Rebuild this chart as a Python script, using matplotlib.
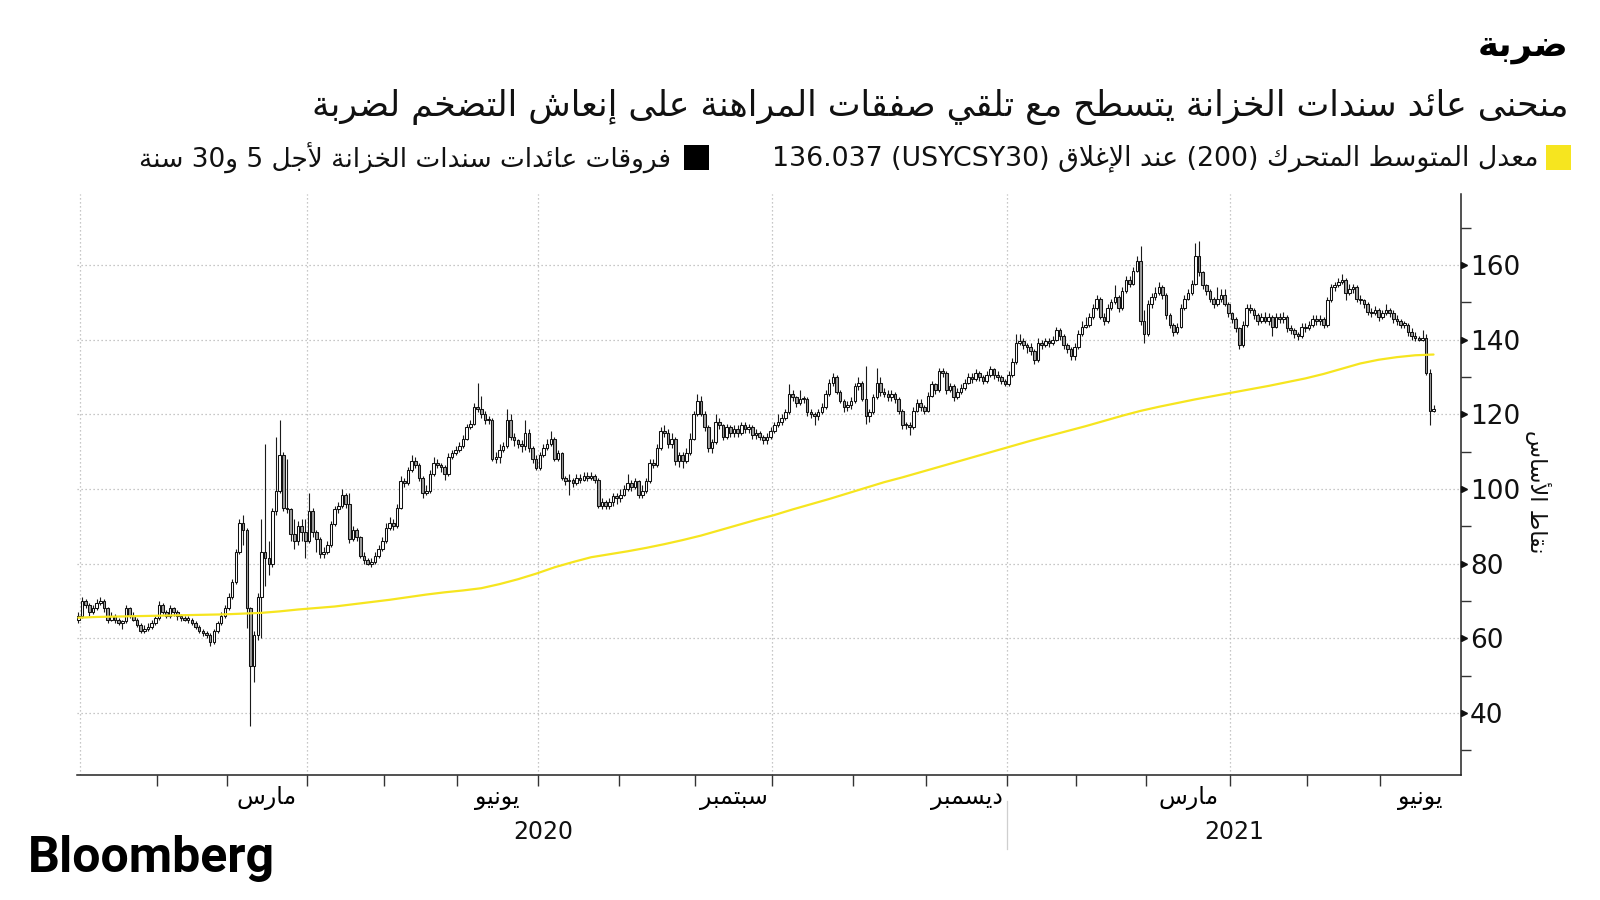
import numpy as np
import pandas as pd
import matplotlib
matplotlib.use("Agg")
import matplotlib.pyplot as plt
import matplotlib.transforms as mtransforms
from matplotlib.patches import Rectangle

plt.rcParams['font.family'] = ['DejaVu Sans']

# --- Arabic shaping (matplotlib has no text shaping, so use presentation forms) ---
AR_LETTERS = "ءآأؤإئابةتثجحخدذرزسشصضطظعغفقكلمنهوىي"
AR_NFORMS = [1, 2, 2, 2, 2, 4, 2, 4, 2, 4, 4, 4, 4, 4, 2, 2, 2, 2, 4, 4,
             4, 4, 4, 4, 4, 4, 4, 4, 4, 4, 4, 4, 4, 2, 2, 4]
FORMS = {}
_code = 0xFE80
for _ch, _n in zip(AR_LETTERS, AR_NFORMS):
    FORMS[_ch] = (_code, _n)
    _code += _n
LAM_ALEF = {'آ': 0xFEF5, 'أ': 0xFEF7, 'إ': 0xFEF9, 'ا': 0xFEFB}


def shape(text):
    chars = []
    i = 0
    while i < len(text):
        if text[i] == 'ل' and i + 1 < len(text) and text[i + 1] in LAM_ALEF:
            chars.append(('LA', text[i + 1]))
            i += 2
        else:
            chars.append(text[i])
            i += 1
    out = []
    for k, ch in enumerate(chars):
        prev = chars[k - 1] if k > 0 else None
        nxt = chars[k + 1] if k + 1 < len(chars) else None
        prev_j = isinstance(prev, str) and prev in FORMS and FORMS[prev][1] == 4
        if isinstance(ch, tuple):
            out.append(chr(LAM_ALEF[ch[1]] + (1 if prev_j else 0)))
            continue
        if ch not in FORMS:
            out.append(ch)
            continue
        base, n = FORMS[ch]
        next_j = n == 4 and nxt is not None and (
            isinstance(nxt, tuple) or (nxt in FORMS and FORMS[nxt][1] > 1))
        if n == 1:
            out.append(chr(base))
        elif n == 2:
            out.append(chr(base + (1 if prev_j else 0)))
        else:
            off = 3 if (prev_j and next_j) else 1 if prev_j else 2 if next_j else 0
            out.append(chr(base + off))
    return ''.join(out)


def rtl(text):
    return shape(text)[::-1]


# --- data: 5y/30y Treasury spread (bp), daily candles from 31 Dec 2019 ---
holidays = ['2020-01-01', '2020-01-20', '2020-02-17', '2020-04-10', '2020-05-25',
            '2020-07-03', '2020-09-07', '2020-11-26', '2020-12-25', '2021-01-01',
            '2021-01-18', '2021-02-15', '2021-04-02', '2021-05-31']

first_open = 65
closes = [
    66, 70, 69, 67, 68, 69.5, 70, 68, 65, 66,
    65, 64, 64.5, 68, 66, 65, 63.5, 62, 62.5, 63,
    64, 65.5, 69, 67, 66, 68, 67, 66, 65.5, 65,
    65, 64, 63, 62, 61.5, 61, 59, 62, 64, 66,
    68, 71, 75, 83, 91, 89, 68, 52.5, 61, 71,
    83, 81.5, 80, 94, 99.5, 109, 95, 94.5, 88, 86,
    90, 88.5, 86, 94, 88.5, 86.5, 82.5, 83, 85, 90.5,
    94.5, 95.5, 98.5, 96, 86.5, 89, 87, 82, 81, 80,
    80.5, 82, 84, 86, 89.5, 91, 90, 95, 102, 101.5,
    105, 107.5, 106.5, 103, 99, 99.5, 104, 107, 106.5, 106,
    104, 108.5, 109.5, 110.5, 111.5, 113.5, 116.5, 117.5, 122, 121.5,
    120, 118.5, 118.5, 108, 108.5, 110.5, 111.5, 118.5, 114, 113,
    112, 111.5, 115, 111, 108, 105.5, 109, 111, 112, 113.5,
    108, 109.5, 103, 102, 102.5, 101.5, 103, 102.5, 103.5, 103,
    103.5, 102.5, 95.5, 96.5, 95.5, 96.5, 98, 97.5, 98.5, 100,
    101.5, 100.5, 102, 98.5, 99.5, 102, 107, 106.5, 111, 115.5,
    115, 112, 113.5, 107.5, 109, 107.5, 109.5, 113.5, 120, 123.5,
    120, 116.5, 111, 112.5, 118, 117, 114, 116.5, 115, 116,
    115, 117, 116, 116.5, 114.5, 115, 114, 113, 114, 115.5,
    117, 118, 119, 120.5, 125.5, 124.5, 123, 124, 124, 120.5,
    120, 119.5, 120.5, 122, 125.5, 128.5, 130, 126, 123.5, 122,
    122.5, 123.5, 127.5, 128.5, 124, 119.5, 120.5, 124.5, 128.5, 126,
    125.5, 124.5, 125.5, 124, 121, 117, 117, 116.5, 121, 123,
    122, 121, 125, 128, 126.5, 131.5, 131, 126.5, 127.5, 124.5,
    126, 127, 128.5, 130, 129.5, 131, 130, 129, 130.5, 132,
    130.5, 130, 129, 128, 130.5, 134, 139, 139.5, 138.5, 138,
    137, 134.5, 139, 138.5, 139.5, 139, 140, 142.5, 141, 138.5,
    137.5, 135.5, 138, 141.5, 143.5, 144, 146, 148.5, 151, 146,
    145, 148.5, 150, 151.5, 148.5, 153, 156, 155, 158.5, 161,
    145, 141.5, 149.5, 151.5, 152.5, 154, 152, 146.5, 144, 142,
    143.5, 148.5, 151, 152.5, 155, 162.5, 158, 154.5, 153, 151,
    149.5, 151, 152, 149.5, 147, 145.5, 143, 138.5, 144, 148.5,
    148, 146.5, 145, 146, 145, 146, 143.5, 146, 145.5, 146,
    143, 142.5, 141.5, 141, 143.5, 143, 144, 145.5, 145, 145.5,
    144, 150.5, 154, 154.5, 155.5, 156, 152.5, 153.5, 154, 151,
    150.5, 149.5, 147.5, 147, 148, 146, 147, 148, 147, 145.5,
    145, 144, 144, 142, 141, 140.5, 140, 140.5, 131, 121,
    121.5,
]
highs = [
    67, 71, 70.5, 69.5, 69, 70.5, 71, 70.5, 68.5, 67,
    66.5, 65.5, 65, 69, 68.5, 67, 65.5, 64, 63.5, 64,
    65, 66, 70, 69.5, 67.5, 69, 68.5, 67.5, 66.5, 66,
    66, 65.5, 64.5, 63.5, 62.5, 62, 61.5, 62.5, 64.5, 67,
    69, 72, 76, 84, 92, 93, 89.5, 68.5, 62, 72,
    92, 112, 86, 95, 114, 118.5, 110, 108, 95, 92,
    91.5, 92, 92, 99, 95, 89, 87, 84.5, 86, 91.5,
    95.5, 96.5, 100, 99, 99, 90, 89.5, 87.5, 83, 81.5,
    81.5, 83, 85, 87, 91, 92.5, 92, 96, 103.5, 103,
    106, 109, 108.5, 107, 103.5, 101, 105, 108.5, 108, 107,
    106.5, 109.5, 110.5, 111.5, 112.5, 114.5, 117.5, 118.5, 123, 128.5,
    125, 121, 119.5, 119, 110, 112, 112.5, 121.5, 120, 115,
    113.5, 113, 118.5, 116, 111.5, 109, 110, 112, 113.5, 115.5,
    114, 110.5, 110, 103.5, 104, 103, 104, 104, 104.5, 104.5,
    104.5, 104, 103, 97.5, 97, 97.5, 99, 99, 100, 101,
    104, 102.5, 103, 102.5, 101, 103, 108, 108, 112, 116.5,
    117, 116, 115, 114, 110, 110, 111, 115, 121, 125.5,
    125, 121, 117, 113.5, 120, 119, 117.5, 117.5, 117, 117,
    117, 118, 118, 117.5, 117, 116, 115.5, 114.5, 115, 116.5,
    118, 120, 120, 121.5, 128, 126.5, 125, 126.5, 125, 124.5,
    121.5, 120.5, 121.5, 123, 126.5, 129.5, 131, 130.5, 126.5, 124,
    123.5, 124.5, 128.5, 130, 129, 133, 121.5, 125.5, 132.5, 130,
    127, 126.5, 126.5, 126, 124.5, 121.5, 118, 118, 122, 124,
    124, 122.5, 126, 129, 128.5, 132.5, 132.5, 131.5, 128.5, 128,
    127, 128, 129.5, 131, 131, 132, 131.5, 130.5, 131.5, 133,
    132.5, 131.5, 130.5, 129.5, 131.5, 135, 141.5, 141.5, 140.5, 139,
    139, 137.5, 140.5, 140, 140.5, 140.5, 141, 143.5, 143, 141.5,
    139, 138, 139, 142.5, 145, 146, 147, 149.5, 152, 151.5,
    147, 149.5, 151, 154.5, 152, 154, 157, 157, 159.5, 162.5,
    165, 148, 150.5, 152.5, 154, 155.5, 154.5, 152.5, 147, 144.5,
    144.5, 149.5, 152, 153.5, 156, 166, 166.5, 158.5, 155, 153.5,
    151.5, 154, 153.5, 153.5, 150, 147.5, 146, 143.5, 145, 149.5,
    149.5, 148.5, 147, 147, 147.5, 147, 146.5, 147, 147, 147.5,
    146.5, 144, 143, 142, 144.5, 144.5, 145, 146.5, 146.5, 146.5,
    146, 151.5, 155, 155.5, 156.5, 157.5, 156.5, 155, 155, 154.5,
    152, 151, 150, 148.5, 149, 148.5, 148, 149.5, 148.5, 148,
    146.5, 145.5, 145, 144.5, 143, 142, 141, 142.5, 141.5, 132,
    122.5,
]
lows = [
    64, 65.5, 68, 66, 66.5, 67.5, 69, 67, 64, 64.5,
    64, 63.5, 62.5, 64, 65.5, 64.5, 63, 61.5, 61.5, 62,
    62.5, 63.5, 65, 66.5, 65.5, 65.5, 66, 65, 64.5, 64.5,
    64, 63.5, 62.5, 61.5, 60.5, 60, 57.8, 58.5, 61.5, 63.5,
    65.5, 67.5, 70.5, 74.5, 82.5, 85, 62.7, 36.5, 48.4, 59.5,
    60, 74, 77, 79, 93, 99, 94, 93.5, 86, 84,
    85, 86, 81.5, 85.5, 87, 83, 81.5, 81.5, 82.5, 84.5,
    90, 93.5, 95, 95, 85.5, 86, 86, 81.5, 80, 79.5,
    79, 80, 81.5, 83.5, 85.5, 89, 89, 89.5, 94.5, 100.5,
    101, 104.5, 105.5, 102, 97.5, 98.5, 99, 103.5, 105.5, 104.5,
    102.5, 103.5, 108, 109, 110, 111, 113, 116, 117, 120.5,
    119, 117.5, 117.5, 107.5, 107, 107, 110, 111, 113, 111.5,
    111, 110, 110.5, 110, 107, 105, 105, 108.5, 110.5, 111.5,
    107.5, 107.5, 102.5, 101, 98.5, 100.5, 101, 101.5, 102, 102,
    102.5, 101.5, 95, 94.5, 94.5, 94.5, 95.5, 96, 96.5, 98,
    99.5, 99.5, 100, 97.5, 97.5, 99, 101.5, 105.5, 106, 110.5,
    114, 111, 111, 106.5, 106, 105.5, 107, 109, 113, 119.5,
    119.5, 115.5, 110, 109.5, 112, 116, 113, 113.5, 114, 114,
    114, 114.5, 115, 115, 113.5, 113.5, 113, 112, 112, 113.5,
    115, 116.5, 117, 118.5, 120, 123.5, 122, 122.5, 123, 119.5,
    119, 117, 118.5, 120, 121.5, 125, 127.5, 125.5, 123, 120.5,
    121, 121.5, 123, 126.5, 123.5, 117.5, 118, 120, 124, 125,
    124.5, 123.5, 123.5, 123, 120, 116, 116, 114.5, 116, 120.5,
    121, 120, 120.5, 124.5, 125.5, 126, 130, 125.5, 126, 123.5,
    124, 125.5, 126.5, 128, 128.5, 129, 129, 128, 128.5, 130,
    129.5, 129, 128, 127.5, 127.5, 130, 133.5, 138.5, 137.5, 136.5,
    136, 133.5, 134, 137.5, 138, 138, 138.5, 139.5, 140, 137.5,
    136.5, 134.5, 134.5, 137.5, 141, 143, 143.5, 145.5, 148, 145.5,
    144, 144.5, 148, 149.5, 147.5, 148, 152.5, 154, 154.5, 158,
    144, 139, 141, 148.5, 150.5, 152, 151, 145.5, 143, 141,
    141.5, 143, 148, 150.5, 152, 154.5, 157, 153.5, 152, 150,
    148.5, 149, 150, 149, 146, 144.5, 142, 137.5, 138, 143.5,
    147, 145.5, 144, 144.5, 144.5, 144, 141, 143, 144.5, 144.5,
    142, 141.5, 140.5, 139.8, 140.5, 142, 142.5, 143.5, 144, 144,
    143, 143.5, 150, 153, 154, 155, 150.5, 152, 152.5, 150,
    149.5, 148.5, 146.5, 146, 146.5, 145, 145.5, 146.5, 146, 144.5,
    144, 143, 143, 141, 140, 139.5, 139.5, 139.5, 130.5, 117,
    120.5,
]

# 200-day moving average, read every 5th trading day
ma_step = 5
ma_vals = [
    65.5, 65.7, 65.8, 65.9, 66.0, 66.1, 66.2, 66.3, 66.4, 66.6,
    66.8, 67.2, 67.7, 68.1, 68.5, 69.1, 69.7, 70.3, 71.0, 71.7,
    72.3, 72.8, 73.4, 74.5, 75.8, 77.3, 79.0, 80.4, 81.7, 82.5,
    83.3, 84.2, 85.2, 86.3, 87.5, 88.9, 90.3, 91.7, 93.0, 94.5,
    95.9, 97.3, 98.8, 100.3, 101.8, 103.1, 104.5, 105.9, 107.3, 108.7,
    110.1, 111.5, 112.9, 114.2, 115.5, 116.8, 118.2, 119.6, 120.9, 122.0,
    123.0, 124.0, 124.9, 125.8, 126.7, 127.6, 128.6, 129.6, 130.8, 132.2,
    133.6, 134.6, 135.3, 135.8, 136.0,
]

month_names = {3: 'مارس', 6: 'يونيو', 9: 'سبتمبر', 12: 'ديسمبر'}
years = [2020, 2021]
y_major = [40, 60, 80, 100, 120, 140, 160]
y_minor = [30, 50, 70, 90, 110, 130, 150, 170]

title = 'ضربة'
subtitle = 'منحنى عائد سندات الخزانة يتسطح مع تلقي صفقات المراهنة على إنعاش التضخم لضربة'
ylabel = 'نقاط الأساس'

# --- calendar ---
dates = pd.bdate_range('2019-12-31', '2021-06-30', freq='C', holidays=holidays)
n = len(closes)
x = np.arange(n)
closes = np.array(closes, dtype=float)
highs = np.array(highs, dtype=float)
lows = np.array(lows, dtype=float)
opens = np.r_[first_open, closes[:-1]]

# month boundaries in index space
months = pd.Series(np.arange(len(dates)), index=dates)
bounds = []
for (yy, mm), s in months.groupby([dates.year, dates.month]):
    bounds.append((yy, mm, s.iloc[0] - 0.5, s.iloc[-1] + 0.5))
x_right = len(dates) - 0.5

fig = plt.figure(figsize=(16, 9), dpi=100)
ax = fig.add_axes([76.5 / 1600, 1 - 774.5 / 900, (1461 - 76.5) / 1600, (774.5 - 194) / 900])
ax.set_xlim(-0.5, x_right)
ax.set_ylim(23.5, 179)

# gridlines
for v in y_major:
    ax.axhline(v, color='#b5b5b5', lw=0.9, ls=(0, (1, 2.2)), zorder=0)
for yy, mm, a, b in bounds:
    if mm in (3, 6, 9, 12) and b < x_right - 1:
        ax.axvline(b, color='#b5b5b5', lw=0.9, ls=(0, (1, 2.2)), zorder=0)

# candles
up = closes >= opens
body_lo = np.minimum(opens, closes)
body_h = np.maximum(np.abs(closes - opens), 0.35)
ax.vlines(x, lows, highs, color='#1a1a1a', lw=0.8, zorder=2)
ax.bar(x, body_h, bottom=body_lo, width=0.7,
       color=np.where(up, 'white', '#9c9c9c'), edgecolor='#111111', linewidth=0.75, zorder=3)

# moving average
ma_x = np.arange(len(ma_vals)) * ma_step
ax.plot(ma_x, ma_vals, color='#f6e51f', lw=1.6, zorder=4, solid_capstyle='round')

# spines
for s in ('left', 'top'):
    ax.spines[s].set_visible(False)
for s in ('bottom', 'right'):
    ax.spines[s].set_color('#222222')
    ax.spines[s].set_linewidth(1.1)

# y axis on the right
ax.yaxis.tick_right()
ax.set_yticks(y_major)
ax.set_yticklabels([str(v) for v in y_major], fontsize=19)
ax.set_yticks(y_minor, minor=True)
ax.tick_params(axis='y', which='major', length=0, pad=6.5, colors='#111111')
ax.tick_params(axis='y', which='minor', length=7, width=1, color='#333333', direction='out')
tri = mtransforms.offset_copy(mtransforms.blended_transform_factory(ax.transAxes, ax.transData),
                              fig=fig, x=3, y=0, units='dots')
ax.plot([1] * len(y_major), y_major, linestyle='none', marker='>', markersize=5,
        color='#111111', transform=tri, clip_on=False, zorder=5)

# x axis: ticks at month boundaries, labels at centres of quarter-end months
tick_pos = [b for yy, mm, a, b in bounds if 1 < b < x_right - 1]
ax.set_xticks(tick_pos)
ax.set_xticklabels([])
lab_pos = [(a + b) / 2 for yy, mm, a, b in bounds if mm in month_names and a > 0]
lab_txt = [rtl(month_names[mm]) for yy, mm, a, b in bounds if mm in month_names and a > 0]
ax.set_xticks(lab_pos, minor=True)
ax.set_xticklabels(lab_txt, minor=True, fontsize=17)
ax.tick_params(axis='x', which='major', length=8, width=1, color='#333333', direction='out')
ax.tick_params(axis='x', which='minor', length=0, pad=8)

# year labels and separator
xt = mtransforms.blended_transform_factory(ax.transData, ax.transAxes)
for yr in years:
    sel = [(a, b) for yy, mm, a, b in bounds if yy == yr]
    ax.text((max(sel[0][0], -0.5) + sel[-1][1]) / 2, -0.099, str(yr), transform=xt,
            ha='center', va='center', fontsize=17, color='#111111')
sep = [b for yy, mm, a, b in bounds if yy == 2020 and mm == 12][0]
ax.plot([sep, sep], [-0.045, -0.128], transform=xt, color='#cfcfcf', lw=0.9, clip_on=False)

# y label
fig.text(1538 / 1600, 1 - 492 / 900, rtl(ylabel), rotation=-90, ha='center', va='center',
         fontsize=16, color='#111111')

# titles
fig.text(1569 / 1600, 1 - 47 / 900, rtl(title), ha='right', va='center', fontsize=25.5,
         fontweight='bold', color='#000000')
fig.text(1569 / 1600, 1 - 107 / 900, rtl(subtitle), ha='right', va='center', fontsize=25,
         color='#111111')

# legend
def px_rect(x0, y0, w, h, color):
    fig.patches.append(Rectangle((x0 / 1600, 1 - (y0 + h) / 900), w / 1600, h / 900,
                                 transform=fig.transFigure, facecolor=color, edgecolor='none'))

px_rect(1546, 145, 25, 25, '#f6e51f')
leg1 = '136.037 (USYCSY30) ' + rtl('عند الإغلاق') + ' (200) ' + rtl('معدل المتوسط المتحرك')
fig.text(1538 / 1600, 1 - 158 / 900, leg1, ha='right', va='center', fontsize=19.3, color='#111111')
px_rect(684, 145, 25, 25, '#000000')
leg2 = rtl('سنة') + ' 30' + rtl('و') + ' 5 ' + rtl('فروقات عائدات سندات الخزانة لأجل')
fig.text(671 / 1600, 1 - 158 / 900, leg2, ha='right', va='center', fontsize=19, color='#111111')

fig.text(28 / 1600, 1 - 858 / 900, 'Bloomberg', ha='left', va='center', fontsize=36,
         fontweight='bold', family=['Roboto', 'DejaVu Sans'], color='#000000')

fig.savefig('out.png', dpi=100, facecolor='white')
